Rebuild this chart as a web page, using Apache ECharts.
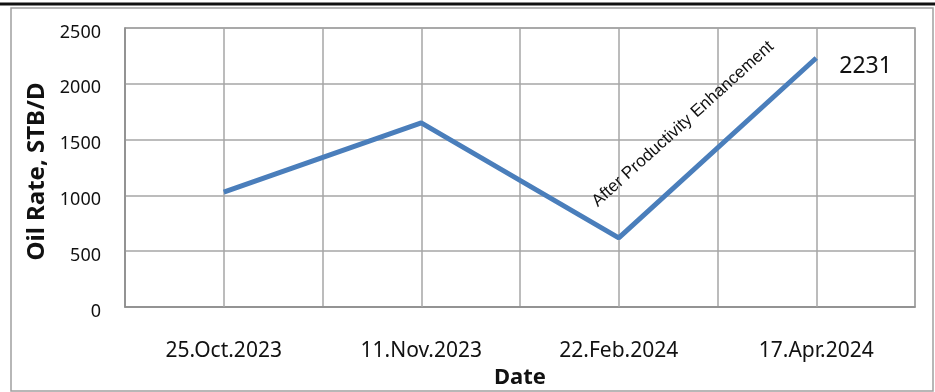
<!DOCTYPE html>
<html>
<head>
<meta charset="utf-8">
<script src="https://cdn.jsdelivr.net/npm/echarts@6/dist/echarts.min.js"></script>
<style>html,body{margin:0;padding:0;background:#fff;}#c{width:935px;height:392px;}</style>
</head>
<body>
<div id="c"></div>
<script>
const categories = ['25.Oct.2023', '11.Nov.2023', '22.Feb.2024', '17.Apr.2024'];
const oilRate = [1030, 1650, 620, 2231];
const yMin = 0, yMax = 2500, yStep = 500;
const annotationText = 'After Productivity Enhancement';
const xTitle = 'Date';
const yTitle = 'Oil Rate, STB/D';

const chart = echarts.init(document.getElementById('c'), null, {renderer: 'canvas'});
const lastIdx = oilRate.length - 1;
const seriesData = oilRate.map((v, i) => i === lastIdx ? {
  value: v,
  label: {show: true, position: 'right', offset: [18, 8], fontSize: 23, color: '#111', fontFamily: 'Noto Sans'}
} : v);

chart.setOption({
  backgroundColor: '#fff',
  animation: false,
  grid: {left: 125, right: 20, top: 28, bottom: 85, show: true, borderColor: '#9a9a9a', borderWidth: 1.5,
    containLabel: false, outerBoundsMode: 'none'},
  xAxis: {
    type: 'category',
    data: categories,
    boundaryGap: true,
    name: xTitle,
    nameLocation: 'middle',
    nameGap: 60,
    nameTextStyle: {fontSize: 22, fontWeight: 'bold', color: '#111', fontFamily: 'Noto Sans'},
    axisLine: {lineStyle: {color: '#8c8c8c', width: 1.5}},
    axisTick: {show: false},
    axisLabel: {margin: 34, fontSize: 21, color: '#111', fontFamily: 'Noto Sans'},
    splitLine: {show: true, interval: 0, lineStyle: {color: '#a6a6a6', width: 1.5}}
  },
  yAxis: {
    type: 'value',
    min: yMin, max: yMax, interval: yStep,
    name: yTitle,
    nameLocation: 'middle',
    nameGap: 66,
    nameTextStyle: {fontSize: 24, fontWeight: 'bold', color: '#111', fontFamily: 'Noto Sans', padding: [0, 0, 0, -8]},
    axisLine: {show: true, lineStyle: {color: '#8c8c8c', width: 1.5}},
    axisTick: {show: false},
    axisLabel: {margin: 24, color: '#111',
      formatter: v => '{v|' + v + '}',
      rich: {v: {fontSize: 18, color: '#111', fontFamily: 'Noto Sans', padding: [9, 0, 0, 0]}}},
    splitLine: {show: true, lineStyle: {color: '#a6a6a6', width: 1.5}}
  },
  series: [{
    type: 'line',
    data: seriesData,
    symbol: 'circle',
    symbolSize: 0,
    lineStyle: {color: '#4a7ebb', width: 5},
    itemStyle: {color: '#4a7ebb'},
    z: 5,
    markLine: {
      silent: true,
      symbol: ['none', 'none'],
      label: {show: false},
      lineStyle: {color: '#a6a6a6', width: 1.5, type: 'solid'},
      data: categories.map(c => ({xAxis: c})),
      z: 1
    }
  }],
  graphic: [
    {type: 'rect', shape: {x: 11, y: 8, width: 922, height: 383}, style: {fill: 'none', stroke: '#a0a0a0', lineWidth: 1.5}, silent: true},
    {type: 'line', shape: {x1: 0, y1: 4, x2: 935, y2: 4}, style: {stroke: '#111', lineWidth: 3}, silent: true},
    {type: 'text', x: 683, y: 124, rotation: 42 * Math.PI / 180,
     style: {text: annotationText, align: 'center', verticalAlign: 'middle', fontSize: 17, fontFamily: 'Liberation Sans', fill: '#111'}, z: 10}
  ]
});
</script>
</body>
</html>
